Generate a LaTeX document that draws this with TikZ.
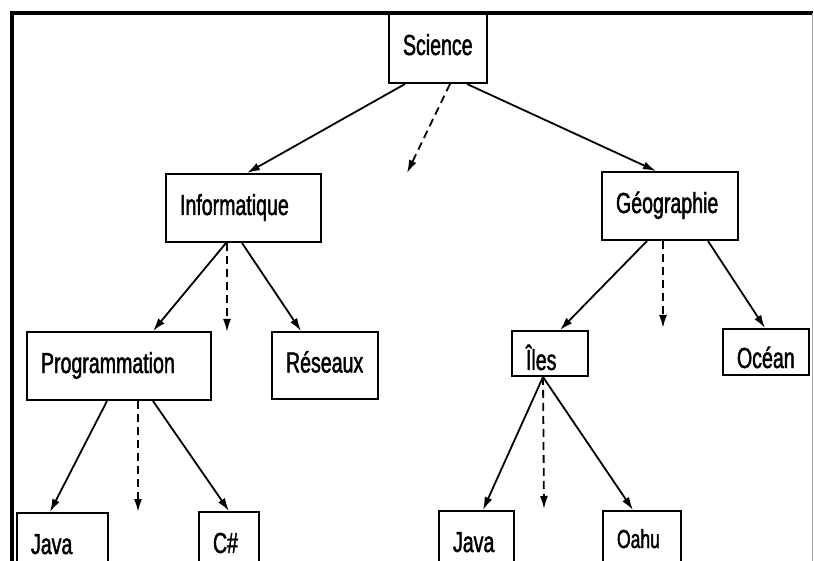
\documentclass[tikz,border=0pt]{standalone}
\usepackage{fontspec}
\setmainfont[FakeStretch=0.675, FakeBold=1.5]{Liberation Sans}
\usetikzlibrary{arrows.meta}

\tikzset{
  box/.style={draw, line width=2pt, rectangle, align=left,
    inner xsep=14pt, inner ysep=0pt,
    font=\fontsize{29}{34}\selectfont, text height=21pt, text depth=7pt},
  link/.style={line width=1.8pt, -{Latex[length=13pt,width=8pt]}},
  dlink/.style={link, dash pattern=on 8pt off 5pt},
}

\begin{document}
\begin{tikzpicture}[x=1pt, y=-1pt]
\useasboundingbox (0,0) rectangle (814,561);
\clip (0,0) rectangle (814,561);

% outer frame, open at the bottom
\draw[line width=4pt] (12,561) -- (12,13.5) -- (813,13.5);
\draw[line width=1pt, black!35] (812.5,13.5) -- (812.5,561);

% level 0
\node[box, text width=70pt, minimum height=70pt] (sci) at (438,48) {Science};

% level 1
\node[box, text width=127pt, minimum height=68pt] (info) at (243.5,208) {Informatique};
\node[box, text width=108pt, minimum height=68pt] (geo) at (670,206) {Géographie};

% level 2
\node[box, text width=156pt, minimum height=68pt] (prog) at (119,366) {Programmation};
\node[box, text width=78pt, minimum height=67pt] (res) at (325,365.5) {Réseaux};
\node[box, text width=48pt, minimum height=45pt, text height=33pt, text depth=0pt] (iles) at (550,353.5) {Îles};
\node[box, text width=58pt, minimum height=46pt, text height=32pt, text depth=0pt] (ocean) at (766,352) {Océan};

% level 3
\node[box, text width=63pt, minimum height=68pt] (java1) at (62.5,547) {Java};
\node[box, text width=32pt, minimum height=68pt] (cs) at (229,546) {C\#};
\node[box, text width=47pt, minimum height=68pt] (java2) at (476.5,545) {Java};
\node[box, text width=50pt, minimum height=68pt, font=\fontsize{26}{30}\selectfont,
      text height=6pt, text depth=0pt] (oahu) at (642,545) {Oahu};

% open ends of the dashed arrows
\coordinate (sciopen) at (407,173);
\coordinate (infoopen) at (227,332);
\coordinate (geoopen) at (663,328);
\coordinate (progopen) at (138,512);
\coordinate (ilesopen) at (544,509);

% connectors
\draw[link] ([xshift=-33pt]sci.south) -- ([xshift=3.5pt]info.north);
\draw[link] ([xshift=29pt]sci.south) -- ([xshift=-14pt]geo.north);
\draw[dlink] ([xshift=12pt]sci.south) -- (sciopen);

\draw[link] ([xshift=-17.5pt]info.south) -- ([xshift=34pt]prog.north);
\draw[dlink] ([xshift=-16.5pt]info.south) -- (infoopen);
\draw[link] ([xshift=-1.5pt]info.south) -- ([xshift=-24pt]res.north);

\draw[link] ([xshift=-23pt]geo.south) -- ([xshift=10pt]iles.north);
\draw[dlink] ([xshift=-7pt]geo.south) -- (geoopen);
\draw[link] ([xshift=38pt]geo.south) -- ([xshift=-1pt]ocean.north);

\draw[link] ([xshift=-12pt]prog.south) -- ([xshift=-12.5pt]java1.north);
\draw[dlink] ([xshift=19pt]prog.south) -- (progopen);
\draw[link] ([xshift=34pt]prog.south) -- (cs.north);

\draw[link] ([xshift=-7pt]iles.south) -- ([xshift=6.5pt]java2.north);
\draw[dlink] ([xshift=-7pt]iles.south) -- (ilesopen);
\draw[link] ([xshift=-7pt]iles.south) -- ([xshift=-9pt]oahu.north);
\end{tikzpicture}
\end{document}
